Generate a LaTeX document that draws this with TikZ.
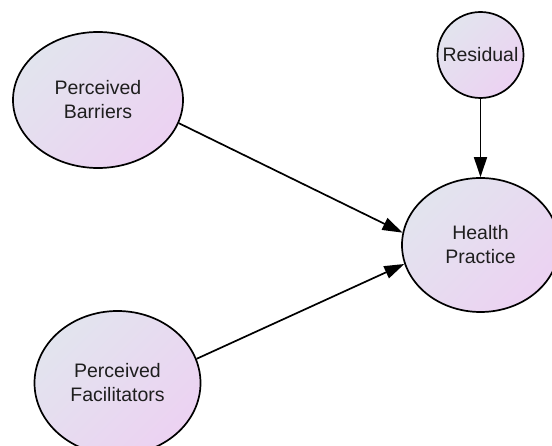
\documentclass[tikz,border=0pt]{standalone}
\usepackage{fontspec}
\setmainfont{Liberation Sans}
\usetikzlibrary{shapes.geometric,arrows.meta}
\definecolor{fillA}{HTML}{E2E4EE}
\definecolor{fillB}{HTML}{ECD2F2}
\definecolor{txt}{HTML}{1E1E1E}
\tikzset{
  latent/.style={ellipse, draw=black, line width=1.7pt, left color=fillA, right color=fillB,
    shading angle=45, inner sep=0pt, align=center, text=txt,
    font=\fontsize{19.5}{24}\selectfont},
  path/.style={line width=1.7pt, -{Triangle[length=20pt,width=13pt]}},
}
\begin{document}
\begin{tikzpicture}[x=1pt,y=-1pt]
\useasboundingbox (0,0) rectangle (552,446);
\clip (0,0) rectangle (552,446);
\node[latent, minimum width=170pt, minimum height=136pt] (pb) at (98,100) {Perceived\\Barriers};
\node[latent, minimum width=166pt, minimum height=144pt] (pf) at (117.5,383) {Perceived\\Facilitators};
\node[latent, circle, minimum size=86pt] (res) at (480.5,55) {Residual};
\node[latent, minimum width=157pt, minimum height=134pt] (hp) at (480.5,245) {Health\\Practice};
\draw[path] (pb.-16) -- (hp.171);
\draw[path] (pf.17) -- (hp.-166);
\draw[path] (res.south) -- (hp.north);
\end{tikzpicture}
\end{document}
